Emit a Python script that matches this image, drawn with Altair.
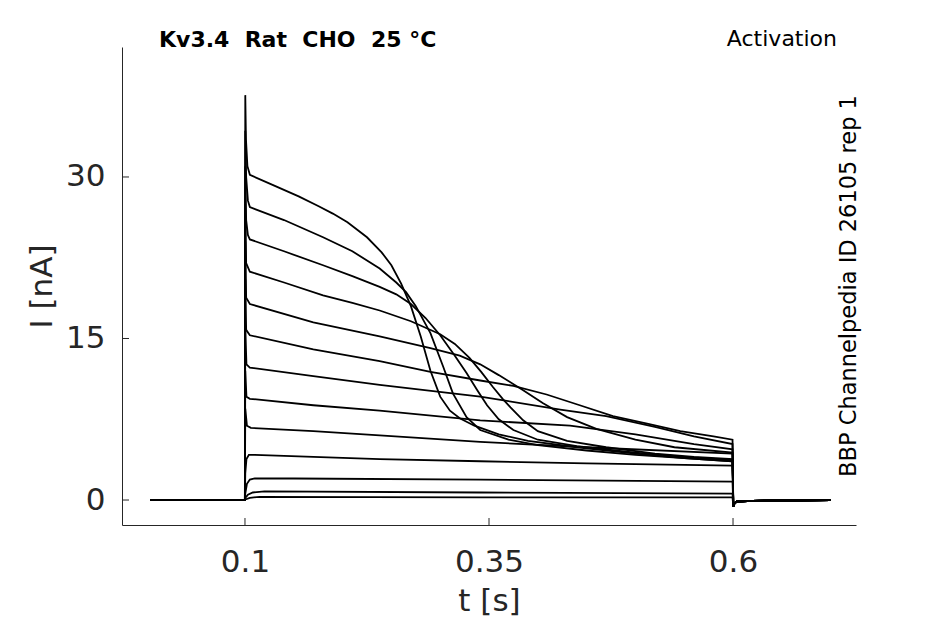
#%%
import pandas as pd
import altair as alt

#%% data (t in s, I in nA)
x_ticks = [0.1, 0.35, 0.6]
y_ticks = [0, 15, 30]

## holding level before and after the step (shared by every sweep)
pre_t = [0.003, 0.0999]
pre_i = [0.0, 0.0]
post_t = [0.6003, 0.6012, 0.6035, 0.62, 0.7]
post_i = [-0.6, -0.35, -0.15, -0.08, 0.0]

## sweeps, highest current first
t30 = [0.1003, 0.1010, 0.1025, 0.105, 0.13, 0.155, 0.175, 0.19, 0.205, 0.225, 0.24, 0.25, 0.26,
       0.27, 0.28, 0.29, 0.30, 0.31, 0.32, 0.335, 0.36, 0.39, 0.44, 0.50, 0.55, 0.5995]
i30 = [37.6, 33.5, 31.0, 30.2, 29.2, 28.2, 27.3, 26.6, 25.8, 24.4, 23.0, 21.8, 20.1,
       18.0, 15.2, 12.0, 9.6, 8.3, 7.6, 6.9, 6.1, 5.5, 4.9, 4.3, 3.9, 3.6]

t27 = [0.1003, 0.1012, 0.103, 0.105, 0.14, 0.18, 0.21, 0.238, 0.255, 0.265, 0.275,
       0.29, 0.303, 0.313, 0.327, 0.341, 0.37, 0.40, 0.45, 0.50, 0.55, 0.5995]
i27 = [34.3, 30.0, 27.8, 27.2, 26.0, 24.4, 23.1, 21.5, 20.2, 19.3, 18.0,
       15.5, 12.4, 9.9, 7.7, 6.5, 5.6, 5.1, 4.6, 4.2, 3.9, 3.6]

t24 = [0.1003, 0.1012, 0.103, 0.105, 0.14, 0.18, 0.21, 0.238, 0.255, 0.27, 0.285,
       0.30, 0.315, 0.327, 0.338, 0.348, 0.36, 0.375, 0.40, 0.44, 0.50, 0.55, 0.5995]
i24 = [31.0, 26.0, 24.6, 24.2, 23.1, 21.8, 20.8, 19.8, 19.1, 18.2, 16.9,
       15.3, 13.4, 11.8, 10.2, 8.8, 7.5, 6.5, 5.6, 5.0, 4.4, 4.0, 3.7]

t21 = [0.1003, 0.1012, 0.105, 0.14, 0.18, 0.21, 0.238, 0.27, 0.30, 0.315, 0.33,
       0.342, 0.354, 0.364, 0.372, 0.385, 0.40, 0.43, 0.47, 0.52, 0.56, 0.5995]
i21 = [27.5, 22.0, 21.2, 20.2, 19.0, 18.3, 17.6, 16.6, 15.4, 14.5, 13.2,
       11.9, 10.5, 9.4, 8.6, 7.4, 6.4, 5.5, 4.9, 4.3, 4.0, 3.8]

t18 = [0.1003, 0.1012, 0.105, 0.17, 0.238, 0.29, 0.32, 0.341, 0.36, 0.385, 0.405, 0.43,
       0.46, 0.50, 0.54, 0.5995]
i18 = [24.0, 18.8, 18.2, 16.5, 15.2, 14.1, 13.4, 12.6, 11.6, 10.2, 9.0, 7.7,
       6.6, 5.6, 4.9, 4.4]

t15 = [0.1003, 0.1012, 0.105, 0.17, 0.238, 0.29, 0.341, 0.375, 0.409, 0.443, 0.477,
       0.512, 0.546, 0.58, 0.5995]
i15 = [20.5, 15.8, 15.3, 14.0, 12.9, 11.9, 11.1, 10.6, 9.8, 8.8, 7.8,
       7.1, 6.4, 5.9, 5.6]

t12 = [0.1003, 0.1015, 0.105, 0.17, 0.238, 0.341, 0.423, 0.47, 0.52, 0.56, 0.5995]
i12 = [16.0, 12.6, 12.3, 11.5, 10.7, 9.6, 8.4, 7.8, 6.8, 5.9, 5.2]

t9 = [0.1003, 0.1015, 0.105, 0.17, 0.238, 0.341, 0.433, 0.50, 0.56, 0.5995]
i9 = [12.0, 9.6, 9.4, 8.8, 8.3, 7.4, 6.9, 6.1, 5.2, 4.7]

t7 = [0.1003, 0.102, 0.106, 0.17, 0.238, 0.341, 0.45, 0.5995]
i7 = [8.5, 6.9, 6.7, 6.4, 6.0, 5.4, 4.9, 4.3]

t4 = [0.1003, 0.1015, 0.104, 0.11, 0.17, 0.238, 0.341, 0.45, 0.5995]
i4 = [2.5, 3.8, 4.2, 4.2, 4.0, 3.8, 3.6, 3.4, 3.2]

t2 = [0.1003, 0.102, 0.105, 0.11, 0.15, 0.341, 0.5995]
i2 = [0.6, 1.5, 1.9, 2.0, 2.0, 1.9, 1.7]

t1 = [0.1003, 0.103, 0.108, 0.12, 0.341, 0.5995]
i1 = [0.2, 0.5, 0.7, 0.8, 0.7, 0.6]

t0 = [0.1003, 0.105, 0.115, 0.341, 0.5995]
i0 = [0.05, 0.2, 0.3, 0.25, 0.25]

sweeps = [(t30, i30), (t27, i27), (t24, i24), (t21, i21), (t18, i18), (t15, i15),
          (t12, i12), (t9, i9), (t7, i7), (t4, i4), (t2, i2), (t1, i1), (t0, i0)]

title_text = "Kv3.4\u00a0\u00a0Rat\u00a0\u00a0CHO\u00a0\u00a025\u00a0°C"
protocol_text = "Activation"
source_text = "BBP Channelpedia ID 26105 rep 1"

#%% long table
rows = []
for n, (ts, cs) in enumerate(sweeps):
    for k, (t, c) in enumerate(zip(pre_t + ts + post_t, pre_i + cs + post_i)):
        rows.append({"sweep": n, "k": k, "t": t, "i": c})
traces = pd.DataFrame(rows)

#%% chart
W, H = 734, 478
axis_grey = "#262626"
font = "DejaVu Sans"

x_scale = alt.Scale(domain=[-0.026, 0.726], nice=False, zero=False)
y_scale = alt.Scale(domain=[-2.32, 42.07], nice=False, zero=False)

lines = (alt.Chart(traces)
    .mark_line(color="black", strokeWidth=1.8, clip=True)
    .encode(
        x=alt.X("t:Q", scale=x_scale,
                axis=alt.Axis(values=x_ticks, format="~g", title="t [s]",
                              titleX=367, titleY=85, titleAlign="center",
                              titleBaseline="alphabetic", labelPadding=22)),
        y=alt.Y("i:Q", scale=y_scale,
                axis=alt.Axis(values=y_ticks, format="d", title="I [nA]",
                              titleX=-80, titleY=239, titleAngle=270,
                              titleAlign="center", titleBaseline="middle",
                              labelPadding=17)),
        detail="sweep:N",
        order="k:Q"
    )
)

## inward tick marks, like the original axes
xt = (alt.Chart(pd.DataFrame({"t": x_ticks}))
    .mark_rule(color=axis_grey, strokeWidth=1)
    .encode(x="t:Q", y=alt.value(H), y2=alt.value(H - 7))
)
yt = (alt.Chart(pd.DataFrame({"i": y_ticks}))
    .mark_rule(color=axis_grey, strokeWidth=1)
    .encode(y="i:Q", x=alt.value(0), x2=alt.value(7))
)

title = (alt.Chart(pd.DataFrame({"s": [title_text]}))
    .mark_text(font=font, fontSize=22, fontWeight="bold", align="left",
               baseline="alphabetic", color="black")
    .encode(text="s:N", x=alt.value(37), y=alt.value(0))
)
protocol = (alt.Chart(pd.DataFrame({"s": [protocol_text]}))
    .mark_text(font=font, fontSize=22, align="right", baseline="alphabetic",
               color="black")
    .encode(text="s:N", x=alt.value(715), y=alt.value(-1))
)
source = (alt.Chart(pd.DataFrame({"s": [source_text]}))
    .mark_text(font=font, fontSize=22.5, angle=270, align="center",
               baseline="middle", color="black")
    .encode(text="s:N", x=alt.value(727), y=alt.value(239))
)

chart = (alt.layer(lines, xt, yt, title, protocol, source)
    .properties(width=W, height=H,
                autosize=alt.AutoSizeParams(type="none"),
                padding={"left": 114, "top": 39, "right": 80, "bottom": 91})
    .configure_view(stroke=None)
    .configure_axis(grid=False, ticks=False, domainColor=axis_grey, domainWidth=1,
                    labelFont=font, labelFontSize=31, labelColor=axis_grey,
                    titleFont=font, titleFontSize=31, titleColor=axis_grey,
                    titleFontWeight="normal")
)

chart.save("out.html", embed_options={"renderer": "svg", "actions": False})
